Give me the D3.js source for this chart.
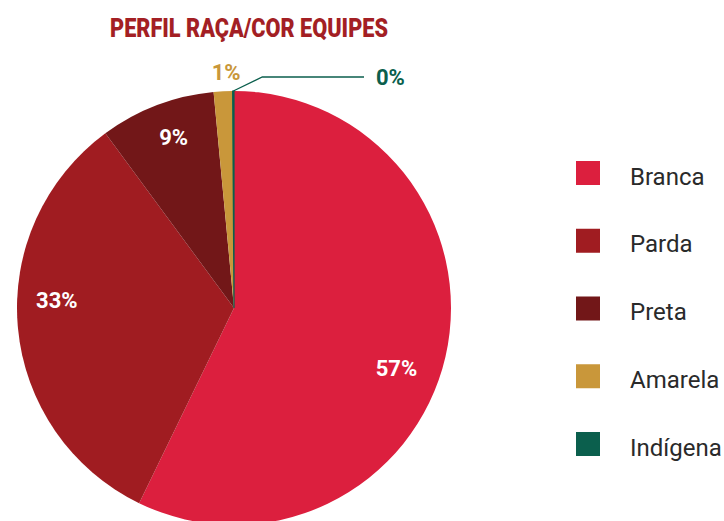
<!DOCTYPE html>
<html>
<head>
<meta charset="utf-8">
<script src="https://cdn.jsdelivr.net/npm/d3@7"></script>
<style>
  html, body { margin: 0; padding: 0; background: #fff; }
  svg { display: block; }
</style>
</head>
<body>
<svg id="chart" width="724" height="521"></svg>
<script>
// values (percent)
const categories = ['Branca', 'Parda', 'Preta', 'Amarela', 'Indígena'];
const shares = [57.2, 32.7, 8.6, 1.4, 0.1];
const colors = ['#dc1f3e', '#a01c21', '#721718', '#c9973a', '#0b5f4d'];

const data = categories.map((name, i) => ({ name, value: shares[i], color: colors[i] }));

const svg = d3.select('#chart');
const cx = 234;
const cy = 308;
const radius = 217;

svg.append('text')
  .attr('x', 249)
  .attr('y', 36.5)
  .attr('text-anchor', 'middle')
  .attr('font-family', 'Roboto, sans-serif')
  .attr('font-weight', 900)
  .attr('font-size', 26)
  .attr('textLength', 278)
  .attr('lengthAdjust', 'spacingAndGlyphs')
  .attr('fill', '#a31f24')
  .text('PERFIL RAÇA/COR EQUIPES');

const pie = d3.pie().sort(null).value((d) => d.value);
const arcs = pie(data);

const arc = d3.arc().innerRadius(0).outerRadius(radius);
const labelArc = d3.arc().innerRadius(radius * 0.64).outerRadius(radius);

const g = svg.append('g').attr('transform', `translate(${cx},${cy})`);

g.selectAll('path.slice')
  .data(arcs)
  .join('path')
  .attr('class', 'slice')
  .attr('d', arc)
  .attr('fill', (d) => d.data.color)
  .attr('stroke', (d) => (d.data.value < 0.5 ? d.data.color : 'none'))
  .attr('stroke-width', 1.2);

// labels inside the big slices
const nudge = { Branca: [-11, 20], Parda: [0, -24], Preta: [3, -5] };
g.selectAll('text.inner')
  .data(arcs.filter((d) => d.data.value >= 5))
  .join('text')
  .attr('class', 'inner')
  .attr('transform', (d) => {
    const [x, y] = labelArc.centroid(d);
    const [nx, ny] = nudge[d.data.name] || [0, 0];
    return `translate(${x + nx},${y + ny})`;
  })
  .attr('text-anchor', 'middle')
  .attr('dy', '0.36em')
  .attr('font-family', 'Roboto, sans-serif')
  .attr('font-weight', 700)
  .attr('font-size', 22)
  .attr('fill', '#fff')
  .text((d) => `${Math.round(d.data.value)}%`);

// small slices: outside labels
const amarela = arcs.find((d) => d.data.name === 'Amarela');
const aMid = (amarela.startAngle + amarela.endAngle) / 2;
g.append('text')
  .attr('x', Math.sin(aMid) * (radius + 20) + 4)
  .attr('y', -Math.cos(aMid) * (radius + 20) + 1)
  .attr('text-anchor', 'middle')
  .attr('dy', '0.36em')
  .attr('font-family', 'Roboto, sans-serif')
  .attr('font-weight', 700)
  .attr('font-size', 22)
  .attr('fill', '#c9973a')
  .text(`${Math.round(amarela.data.value)}%`);

const indigena = arcs.find((d) => d.data.name === 'Indígena');
const iMid = (indigena.startAngle + indigena.endAngle) / 2;
const p0 = [Math.sin(iMid) * radius, -Math.cos(iMid) * radius];
const elbowY = 77 - cy;
const p1 = [p0[0] + 29, elbowY];
const p2 = [364 - cx, elbowY];
g.append('polyline')
  .attr('points', [p0, p1, p2].map((p) => p.join(',')).join(' '))
  .attr('fill', 'none')
  .attr('stroke', '#0b5f4d')
  .attr('stroke-width', 1.3);
g.append('text')
  .attr('x', p2[0] + 12)
  .attr('y', elbowY)
  .attr('dy', '0.36em')
  .attr('font-family', 'Roboto, sans-serif')
  .attr('font-weight', 700)
  .attr('font-size', 22)
  .attr('fill', '#0b5f4d')
  .text(`${Math.round(indigena.data.value)}%`);

// legend
const legendY = d3.scalePoint().domain(categories).range([161, 432]);
const legend = svg.append('g');
const items = legend.selectAll('g')
  .data(data)
  .join('g')
  .attr('transform', (d) => `translate(576,${legendY(d.name)})`);
items.append('rect')
  .attr('width', 24)
  .attr('height', 24)
  .attr('fill', (d) => d.color);
items.append('text')
  .attr('x', 54)
  .attr('y', 23.5)
  .attr('font-family', 'Roboto, sans-serif')
  .attr('font-size', 24)
  .attr('fill', '#2a2a2a')
  .text((d) => d.name);
</script>
</body>
</html>
